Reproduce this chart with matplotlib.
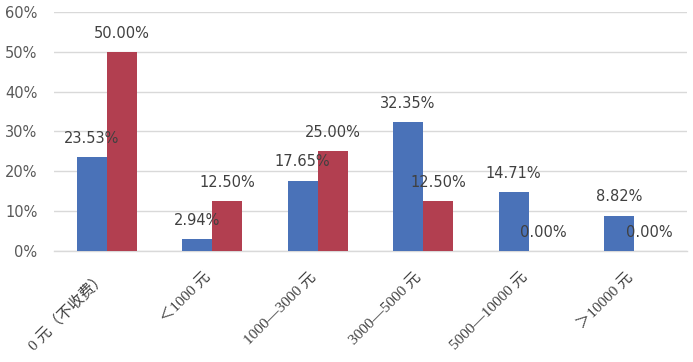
import matplotlib
matplotlib.use("Agg")
import matplotlib.pyplot as plt
import numpy as np

categories = ["0 元（不收费）", "＜1000 元", "1000—3000 元", "3000—5000 元", "5000—10000 元", "＞10000 元"]
series_a = [23.53, 2.94, 17.65, 32.35, 14.71, 8.82]
series_b = [50.00, 12.50, 25.00, 12.50, 0.00, 0.00]
yticks = [0, 10, 20, 30, 40, 50, 60]

color_a = "#4a72b8"
color_b = "#b23f50"

fig = plt.figure(figsize=(6.93, 3.62), dpi=100)
ax = fig.add_axes([0.078, 0.307, 0.913, 0.660])

x = np.arange(len(categories))
w = 0.285
bars_a = ax.bar(x - w / 2, series_a, width=w, color=color_a, zorder=3)
bars_b = ax.bar(x + w / 2, series_b, width=w, color=color_b, zorder=3)

for bars, vals in ((bars_a, series_a), (bars_b, series_b)):
    for b, v in zip(bars, vals):
        ax.annotate(f"{v:.2f}%", (b.get_x() + b.get_width() / 2, v),
                    xytext=(0, 13.5), textcoords="offset points",
                    ha="center", va="center", fontsize=10.5,
                    color="#404040", family=["DejaVu Sans"], zorder=4)

ax.set_xlim(-0.5, len(categories) - 0.5)
ax.set_ylim(0, 60)
ax.set_yticks(yticks)
ax.set_yticklabels([f"{t}%" for t in yticks], fontsize=10.5, color="#595959")
ax.yaxis.grid(True, color="#d9d9d9", linewidth=1.0, zorder=0)
ax.tick_params(axis="y", length=0, pad=12)
ax.tick_params(axis="x", length=0, pad=14)
ax.set_xticks(x)
ax.set_xticklabels(categories, rotation=45, ha="right", va="top",
                   rotation_mode="anchor", fontsize=11, color="#404040",
                   family=["Liberation Serif", "Noto Sans CJK SC", "DejaVu Sans"])
for lbl in ax.get_xticklabels():
    lbl.set_x(lbl.get_position()[0])
from matplotlib.transforms import ScaledTranslation
for lbl in ax.get_xticklabels():
    lbl.set_transform(lbl.get_transform() + ScaledTranslation(-6 / 72, 0, fig.dpi_scale_trans))
for s in ("left", "right", "top"):
    ax.spines[s].set_visible(False)
ax.spines["bottom"].set_color("#d9d9d9")
ax.spines["bottom"].set_linewidth(1.0)

fig.savefig("out.png", dpi=100)
